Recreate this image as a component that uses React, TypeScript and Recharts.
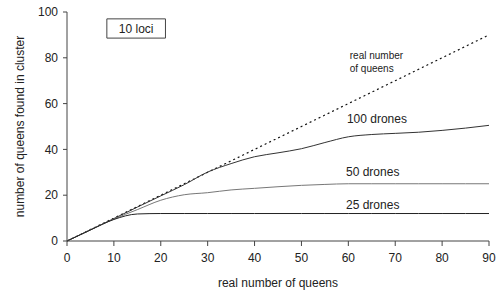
import { Label, Line, LineChart, ReferenceArea, ReferenceDot, XAxis, YAxis } from "recharts";

const queens = [0, 5, 10, 15, 20, 25, 30, 35, 40, 45, 50, 55, 60, 65, 70, 75, 80, 85, 90];
const realCount = [0, 5, 10, 15, 20, 25, 30, 35, 40, 45, 50, 55, 60, 65, 70, 75, 80, 85, 90];
const drones100 = [0, 4.9, 9.8, 14.8, 19.7, 24.6, 30.1, 33.8, 36.8, 38.5, 40.3, 43, 45.5, 46.5, 47, 47.5, 48.3, 49.3, 50.5];
const drones50 = [0, 4.9, 9.6, 13.7, 17.8, 20.2, 21.1, 22.3, 23, 23.7, 24.3, 24.7, 25, 25, 25, 25, 25, 25, 25];
const drones25 = [0, 4.8, 9.4, 11.8, 12, 12, 12, 12, 12, 12, 12, 12, 12, 12, 12, 12, 12, 12, 12];

const xTicks = [0, 10, 20, 30, 40, 50, 60, 70, 80, 90];
const yTicks = [0, 20, 40, 60, 80, 100];

const data = queens.map((q, i) => ({
  q,
  real: realCount[i],
  d100: drones100[i],
  d50: drones50[i],
  d25: drones25[i],
}));

const font = "'Liberation Sans', Arial, sans-serif";
const tickStyle = { fill: "#222", fontSize: 12, fontFamily: font };

export default function App() {
  return (
    <div style={{ position: "absolute", left: 0, top: 0, width: 500, height: 293, background: "#fff" }}>
      <LineChart width={500} height={293} data={data} margin={{ top: 12, right: 11, left: 27, bottom: 7 }} style={{ fontFamily: font }}>
        <XAxis
          dataKey="q"
          type="number"
          domain={[0, 90]}
          ticks={xTicks}
          height={45}
          tickSize={5}
          tickMargin={7}
          stroke="#444"
          tick={tickStyle}
        >
          <Label value="real number of queens" position="insideBottom" offset={-1} style={{ fill: "#222", fontSize: 12, fontFamily: font }} />
        </XAxis>
        <YAxis
          type="number"
          domain={[0, 100]}
          ticks={yTicks}
          width={40}
          tickSize={4}
          tickMargin={5}
          stroke="#444"
          tick={tickStyle}
        >
          <Label
            content={({ viewBox }: any) => (
              <text
                x={viewBox.x - 7}
                y={viewBox.y + viewBox.height / 2}
                transform={`rotate(-90, ${viewBox.x - 7}, ${viewBox.y + viewBox.height / 2})`}
                textAnchor="middle"
                dominantBaseline="central"
                fill="#222"
                fontSize={12}
                fontFamily={font}
              >
                number of queens found in cluster
              </text>
            )}
          />
        </YAxis>
        <ReferenceArea x1={8.5} x2={21} y1={88.6} y2={97} fill="#fff" fillOpacity={1} stroke="#444" strokeWidth={1}>
          <Label value="10 loci" position="center" style={{ fill: "#222", fontSize: 12, fontFamily: font }} />
        </ReferenceArea>
        <Line dataKey="real" type="monotone" stroke="#111" strokeWidth={1.2} strokeDasharray="2 3" dot={false} isAnimationActive={false} />
        <Line dataKey="d100" type="monotone" stroke="#333" strokeWidth={1} dot={false} isAnimationActive={false} />
        <Line dataKey="d50" type="monotone" stroke="#777" strokeWidth={1} dot={false} isAnimationActive={false} />
        <Line dataKey="d25" type="monotone" stroke="#222" strokeWidth={1} dot={false} isAnimationActive={false} />
        <ReferenceDot x={60.3} y={81.2} r={0} fill="none" stroke="none">
          <Label value="real number" position="right" offset={0} style={{ fill: "#222", fontSize: 10, fontFamily: font }} />
        </ReferenceDot>
        <ReferenceDot x={60.3} y={75.3} r={0} fill="none" stroke="none">
          <Label value="of queens" position="right" offset={0} style={{ fill: "#222", fontSize: 10, fontFamily: font }} />
        </ReferenceDot>
        <ReferenceDot x={66.1} y={53.3} r={0} fill="none" stroke="none">
          <Label value="100 drones" position="center" style={{ fill: "#222", fontSize: 12, fontFamily: font }} />
        </ReferenceDot>
        <ReferenceDot x={65.2} y={30.1} r={0} fill="none" stroke="none">
          <Label value="50 drones" position="center" style={{ fill: "#222", fontSize: 12, fontFamily: font }} />
        </ReferenceDot>
        <ReferenceDot x={65.2} y={15.9} r={0} fill="none" stroke="none">
          <Label value="25 drones" position="center" style={{ fill: "#222", fontSize: 12, fontFamily: font }} />
        </ReferenceDot>
      </LineChart>
    </div>
  );
}
